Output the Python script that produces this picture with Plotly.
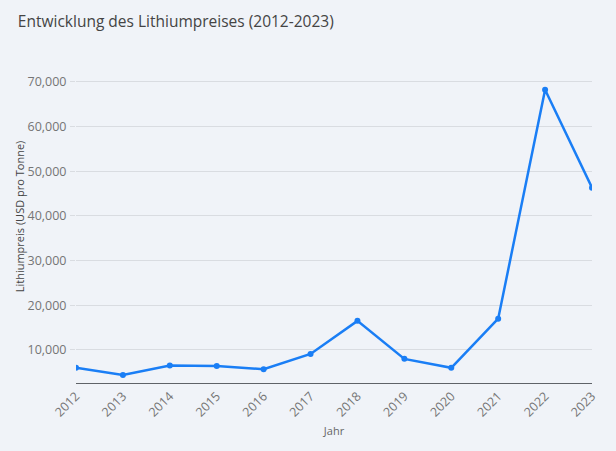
import plotly.graph_objects as go

years = [2012, 2013, 2014, 2015, 2016, 2017, 2018, 2019, 2020, 2021, 2022, 2023]
prices = [6000, 4400, 6500, 6400, 5700, 9100, 16500, 8000, 6000, 17000, 68200, 46300]
y_ticks = [10000, 20000, 30000, 40000, 50000, 60000, 70000]

FONT = "Open Sans, sans-serif"

fig = go.Figure()
fig.add_trace(go.Scatter(
    x=years, y=prices, mode="lines+markers",
    line=dict(color="#1a7ef5", width=2.5),
    marker=dict(color="#1a7ef5", size=6),
    hoverinfo="x+y",
))

fig.update_layout(
    width=616, height=451,
    paper_bgcolor="#f0f3f8", plot_bgcolor="#f0f3f8",
    margin=dict(l=76, r=24, t=50, b=68),
    font=dict(family=FONT, color="#666666", size=12),
    title=dict(text="Entwicklung des Lithiumpreises (2012-2023)", x=0.029, xanchor="left",
               y=0.952, yanchor="middle", font=dict(size=15.5, color="#444444")),
    showlegend=False,
)
fig.update_xaxes(
    range=[2012, 2023], tickmode="array", tickvals=years, ticktext=[str(y) for y in years],
    tickangle=-45, showgrid=False, zeroline=False,
    showline=True, linecolor="#5f6368", linewidth=1,
    tickfont=dict(size=12.5, color="#757575"),
    title=dict(text="Jahr", font=dict(size=11, color="#666666"), standoff=8),
)
fig.update_yaxes(
    range=[2600, 77100], tickmode="array", tickvals=y_ticks, tickformat=",d",
    showgrid=True, gridcolor="#d9dce1", zeroline=False, showline=False,
    ticks="outside", ticklen=5, tickcolor="#d9dce1", ticklabelstandoff=1,
    tickfont=dict(size=12.5, color="#757575"),
    title=dict(text="Lithiumpreis (USD pro Tonne)", font=dict(size=11, color="#444444"), standoff=0),
)

fig.write_html("out.html", config={"displayModeBar": False},
               post_script="document.body.style.margin='0';document.body.style.background='#f0f3f8';")
